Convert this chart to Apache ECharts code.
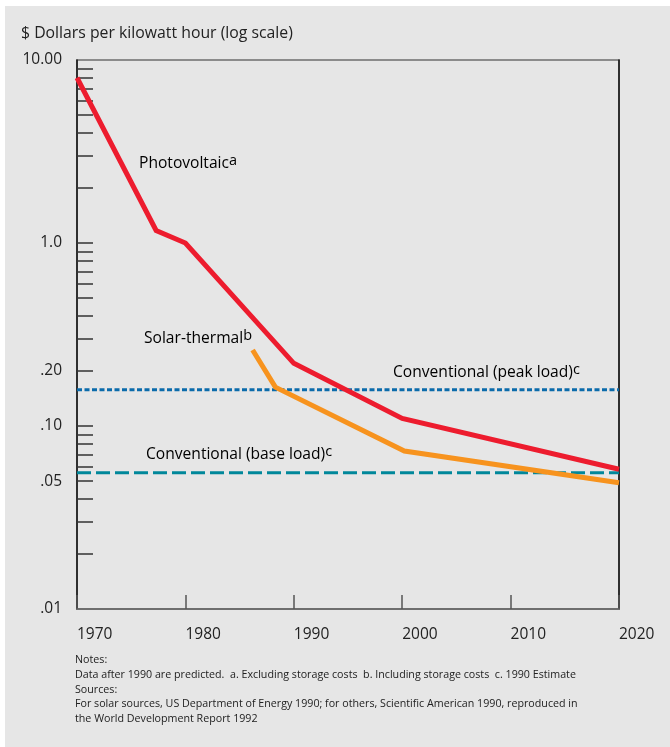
<!DOCTYPE html>
<html>
<head>
<meta charset="utf-8">
<script src="https://cdn.jsdelivr.net/npm/echarts@6/dist/echarts.min.js"></script>
<style>
  html, body { margin: 0; padding: 0; background: #ffffff; }
  #bg { position: absolute; left: 5px; top: 6px; width: 665px; height: 741px; background: #e6e6e6; }
  #chart { position: absolute; left: 0; top: 0; width: 670px; height: 747px; }
</style>
</head>
<body>
<div id="bg"></div>
<div id="chart"></div>
<script>
// ---- data ----
const pvYears = [1970, 1977.3, 1980, 1990, 2000, 2020];
const pvValues = [8.0, 1.17, 1.0, 0.22, 0.11, 0.058];
const stYears = [1986.2, 1988.3, 2000.2, 2020];
const stValues = [0.26, 0.163, 0.073, 0.049];
const peakYears = [1970, 2020];
const peakValue = 0.158;
const baseYears = [1970, 2020];
const baseValue = 0.0555;
const xTicks = [1970, 1980, 1990, 2000, 2010, 2020];
const yLabelValues = [0.01, 0.05, 0.1, 0.2, 1, 10];
const yLabelTexts = ['.01', '.05', '.10', '.20', '1.0', '10.00'];
const yTickValues = [0.02, 0.03, 0.04, 0.05, 0.06, 0.07, 0.08, 0.09, 0.1,
                     0.2, 0.3, 0.4, 0.5, 0.6, 0.7, 0.8, 0.9, 1,
                     2, 3, 4, 5, 6, 7, 8, 9];
const titleText = '$ Dollars per kilowatt hour (log scale)';
const notesLines = [
  'Notes:',
  'Data after 1990 are predicted.  a. Excluding storage costs  b. Including storage costs  c. 1990 Estimate',
  'Sources:',
  'For solar sources, US Department of Energy 1990; for others, Scientific American 1990, reproduced in',
  'the World Development Report 1992'
];

const FONT = 'Open Sans';
const chart = echarts.init(document.getElementById('chart'), null, { renderer: 'canvas' });

function zip(xs, ys) { return xs.map((x, i) => [x, ys[i]]); }
function labelFor(v) {
  for (let i = 0; i < yLabelValues.length; i++) {
    if (Math.abs(Math.log10(v) - Math.log10(yLabelValues[i])) < 1e-6) return yLabelTexts[i];
  }
  return '';
}

const supRich = {
  t: { fontFamily: FONT, fontSize: 15.6, color: '#222' },
  s: { fontFamily: FONT, fontSize: 14.5, color: '#222', padding: [0, 0, 6, 0] }
};

chart.setOption({
  backgroundColor: 'transparent',
  animation: false,
  textStyle: { fontFamily: FONT },
  grid: { left: 77, right: 51, top: 60, bottom: 138, show: true, borderColor: '#6e6e6e', borderWidth: 1.5, backgroundColor: 'transparent' },
  title: {
    text: titleText, left: 16, top: 20,
    textStyle: { fontFamily: FONT, fontSize: 15.8, fontWeight: 'normal', color: '#222' }
  },
  xAxis: {
    type: 'value', min: 1970, max: 2020, interval: 10,
    axisLine: { show: true, lineStyle: { color: '#6e6e6e', width: 2 } },
    axisTick: { show: true, inside: true, length: 14, lineStyle: { color: '#555', width: 1.5 } },
    axisLabel: { show: true, align: 'left', margin: 18, fontFamily: FONT, fontSize: 15.5, color: '#222',
      formatter: v => String(v) },
    splitLine: { show: false }
  },
  yAxis: [{
    type: 'log', logBase: 10, min: 0.01, max: 10,
    axisLine: { show: true, onZero: false, lineStyle: { color: '#111', width: 1.5 } },
    axisTick: { show: true, inside: true, length: 16, customValues: yTickValues, lineStyle: { color: '#333', width: 1.5 } },
    axisLabel: { show: true, margin: 15, fontFamily: FONT, fontSize: 15.5, color: '#222',
      customValues: yLabelValues, formatter: v => labelFor(v) },
    splitLine: { show: false },
    minorTick: { show: false }
  }, {
    type: 'log', logBase: 10, min: 0.01, max: 10, position: 'right',
    axisLine: { show: true, lineStyle: { color: '#111', width: 1.5 } },
    axisTick: { show: false }, axisLabel: { show: false }, splitLine: { show: false }
  }],
  graphic: [
    { type: 'text', left: 75, top: 653, style: { text: notesLines.join('\n'), fontFamily: FONT, fontSize: 10.7, lineHeight: 14.7, fill: '#222' } },
    { type: 'text', left: 139, top: 153, style: { text: '{t|Photovoltaic}{s|a}', rich: supRich } },
    { type: 'text', left: 144, top: 328, style: { text: '{t|Solar-thermal}{s|b}', rich: supRich } },
    { type: 'text', left: 393, top: 362, style: { text: '{t|Conventional (peak load)}{s|c}', rich: supRich } },
    { type: 'text', left: 146, top: 444, style: { text: '{t|Conventional (base load)}{s|c}', rich: supRich } }
  ],
  series: [
    { type: 'line', name: 'Conventional (peak load)', data: peakYears.map(x => [x, peakValue]), symbol: 'none',
      lineStyle: { color: '#0b6bab', width: 3, type: [5, 2.5] }, z: 2 },
    { type: 'line', name: 'Conventional (base load)', data: baseYears.map(x => [x, baseValue]), symbol: 'none',
      lineStyle: { color: '#00879a', width: 3, type: [14, 5] }, z: 2 },
    { type: 'line', name: 'Photovoltaic', data: zip(pvYears, pvValues), symbol: 'none',
      lineStyle: { color: '#ed1c2e', width: 5, cap: 'butt', join: 'miter' }, z: 3 },
    { type: 'line', name: 'Solar-thermal', data: zip(stYears, stValues), symbol: 'none',
      lineStyle: { color: '#f7931e', width: 5, cap: 'butt', join: 'miter' }, z: 3 }
  ]
});
</script>
</body>
</html>
